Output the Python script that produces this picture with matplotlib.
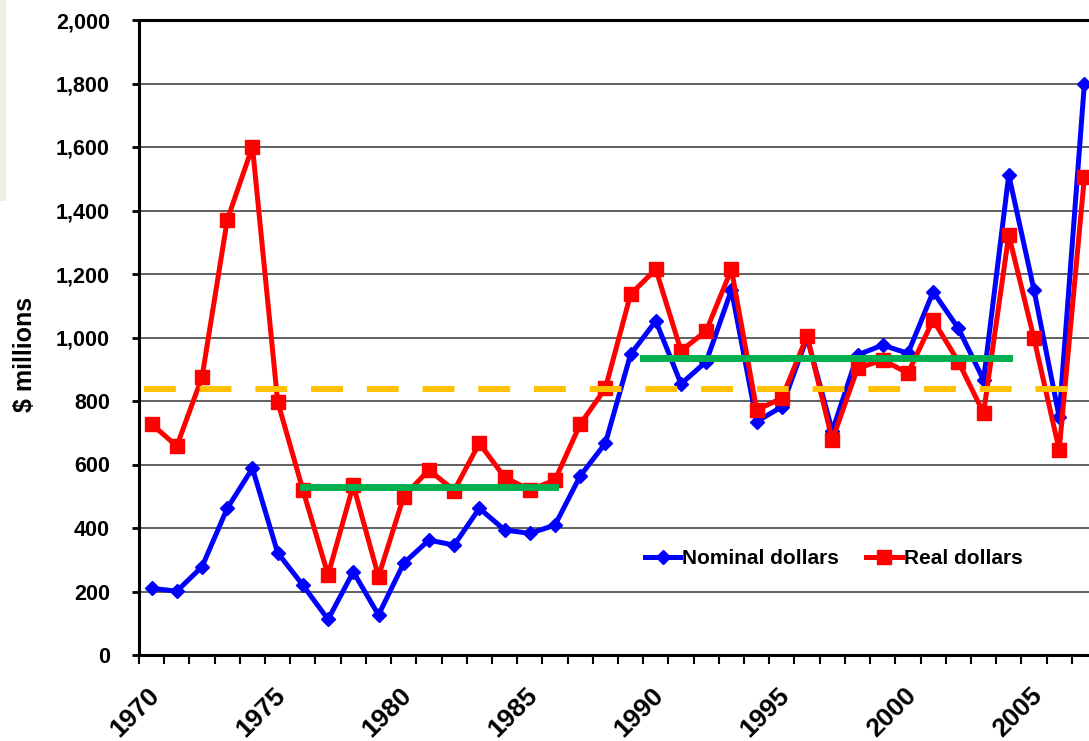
import numpy as np
import matplotlib.pyplot as plt
from matplotlib.patches import Rectangle
from matplotlib.transforms import ScaledTranslation

plt.rcParams['font.family'] = ['Liberation Sans', 'DejaVu Sans']
plt.rcParams['font.weight'] = 'bold'

# data
years = list(range(1970, 2008))
nominal = [210, 201, 278, 462, 588, 322, 220, 112, 262, 126,
           289, 362, 346, 462, 394, 383, 409, 564, 667, 947,
           1052, 854, 924, 1150, 735, 782, 1000, 705, 945, 976,
           950, 1144, 1029, 866, 1512, 1150, 750, 1800]
real = [727, 658, 875, 1370, 1601, 798, 520, 252, 535, 247,
        499, 583, 518, 667, 560, 520, 551, 727, 840, 1136,
        1215, 958, 1021, 1215, 772, 809, 1005, 677, 903, 929,
        888, 1055, 924, 762, 1323, 997, 646, 1506]
overall_avg = 837
period_start = [1976, 1989.5]
period_end = [1986, 2004]
period_avg = [530, 935]

fig = plt.figure(figsize=(10.89, 7.41), dpi=100)
fig.patches.append(Rectangle((0, 1 - 200 / 741), 5 / 1089, 200 / 741,
                             color='#f2eedf', transform=fig.transFigure))
ax = fig.add_axes([139 / 1089, 86 / 741, 958 / 1089, 635 / 741])

ax.plot(years, nominal, color='#0000ff', lw=3.6, marker='D', ms=7,
        label='Nominal dollars', zorder=3)
ax.plot(years, real, color='#ff0000', lw=3.6, marker='s', ms=9.5,
        label='Real dollars', zorder=4)
for s, e, v in zip(period_start, period_end, period_avg):
    ax.plot([s, e], [v, v], color='#00b050', lw=5, zorder=5)
ax.axhline(overall_avg, color='#ffc000', lw=4.3,
           linestyle=(8.5, (5.33, 4)), zorder=6)

ax.set_xlim(1969.5, 2007.5)
ax.set_ylim(0, 2000)
ax.set_yticks(range(0, 2001, 200))
ax.set_yticklabels([f'{v:,}' for v in range(0, 2001, 200)])
ax.set_xticks(years[::5])
ax.set_xticks(np.arange(1969.5, 2008, 1), minor=True)
ax.tick_params(axis='x', which='major', length=0, pad=20, labelsize=19)
ax.tick_params(axis='x', which='minor', length=6.5, width=1.5, direction='out')
ax.tick_params(axis='y', length=5, width=2, pad=16, labelsize=15.5)
shift = ScaledTranslation(-3 / 72, 0, fig.dpi_scale_trans)
for lab in ax.get_xticklabels():
    lab.set_rotation(45)
    lab.set_ha('right')
    lab.set_va('top')
    lab.set_rotation_mode('anchor')
    lab.set_transform(lab.get_transform() + shift)

ax.grid(axis='y', color='#606060', lw=1.4)
ax.set_axisbelow(True)
for sp in ['left', 'bottom', 'top']:
    ax.spines[sp].set_linewidth(2.2)
ax.spines['right'].set_visible(False)

fig.text(25 / 1089, 1 - 354 / 741, '$ millions', rotation=90,
         ha='center', va='center', fontsize=18, fontweight='bold')

ax.legend(loc='center left', bbox_to_anchor=(645 / 1089, 1 - 559 / 741),
          bbox_transform=fig.transFigure, ncol=2, frameon=False,
          borderpad=0, borderaxespad=0, handlelength=1.7, handletextpad=0.1,
          columnspacing=1.3, fontsize=15)

fig.savefig('out.png', dpi=100)
